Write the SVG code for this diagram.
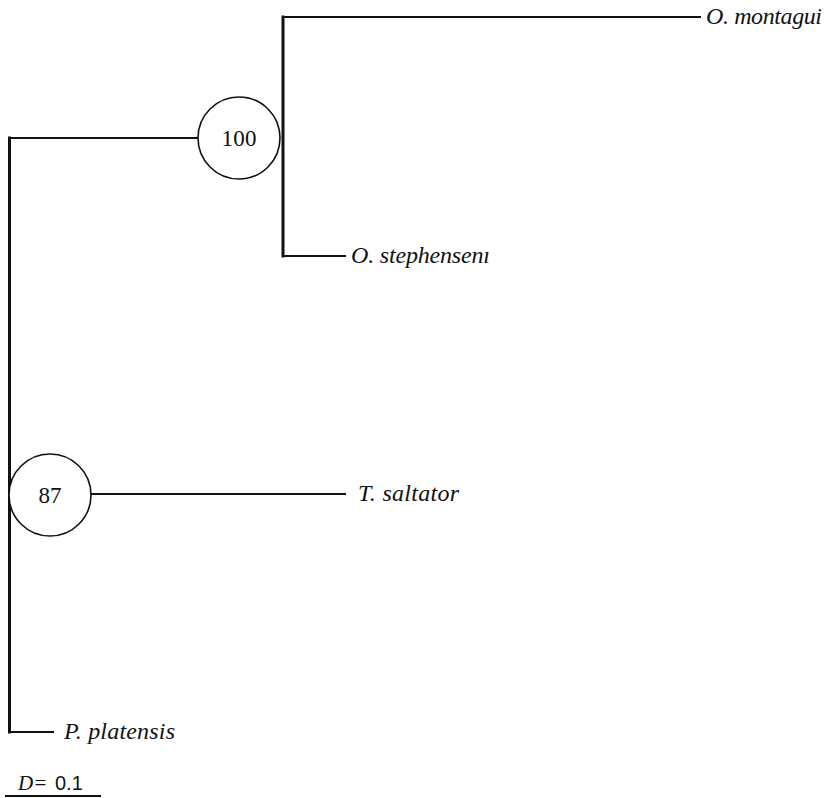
<svg xmlns="http://www.w3.org/2000/svg" width="830" height="798" viewBox="0 0 830 798">
<style>
.br{stroke:#111;fill:none;stroke-linecap:square}
.v{stroke-width:3}
.h{stroke-width:2}
.node{fill:#fff;stroke:#111;stroke-width:1.6}
.lab{font-family:"Liberation Serif","DejaVu Serif",serif;font-style:italic;font-size:24px;fill:#111}
.num{font-family:"Liberation Serif","DejaVu Serif",serif;font-size:23px;fill:#111;text-anchor:middle}
</style>
<rect width="830" height="798" fill="#fff"/>
<g id="connectors">
<line class="br v" x1="9.5" y1="138" x2="9.5" y2="732"/>
<line class="br h" x1="9.5" y1="138" x2="198" y2="138"/>
<line class="br v" x1="283" y1="17" x2="283" y2="256"/>
<line class="br h" x1="283" y1="17" x2="700" y2="17"/>
<line class="br h" x1="283" y1="256" x2="345" y2="256"/>
<line class="br h" x1="91" y1="494" x2="345" y2="494"/>
<line class="br h" x1="9.5" y1="732" x2="53" y2="732"/>
</g>
<g id="node100">
<circle class="node" cx="239" cy="138" r="41"/>
<text class="num" x="239" y="146" textLength="35">100</text>
</g>
<g id="node87">
<circle class="node" cx="50" cy="495" r="41"/>
<text class="num" x="50" y="503" textLength="23">87</text>
</g>
<g id="O_montagui"><text class="lab" x="706" y="24" textLength="116">O. montagui</text></g>
<g id="O_stephenseni"><text class="lab" x="351" y="263" textLength="139">O. stephensenı</text></g>
<g id="T_saltator"><text class="lab" x="358" y="501" textLength="101">T. saltator</text></g>
<g id="P_platensis"><text class="lab" x="64" y="739" textLength="111">P. platensis</text></g>
<g id="scale">
<line class="br h" x1="6" y1="796" x2="100" y2="796"/>
<text class="lab" x="18" y="790" style="font-size:21px">D=</text>
<text x="55" y="790" style="font-family:'Liberation Sans',sans-serif;font-size:20px;fill:#111">0.1</text>
</g>
</svg>
